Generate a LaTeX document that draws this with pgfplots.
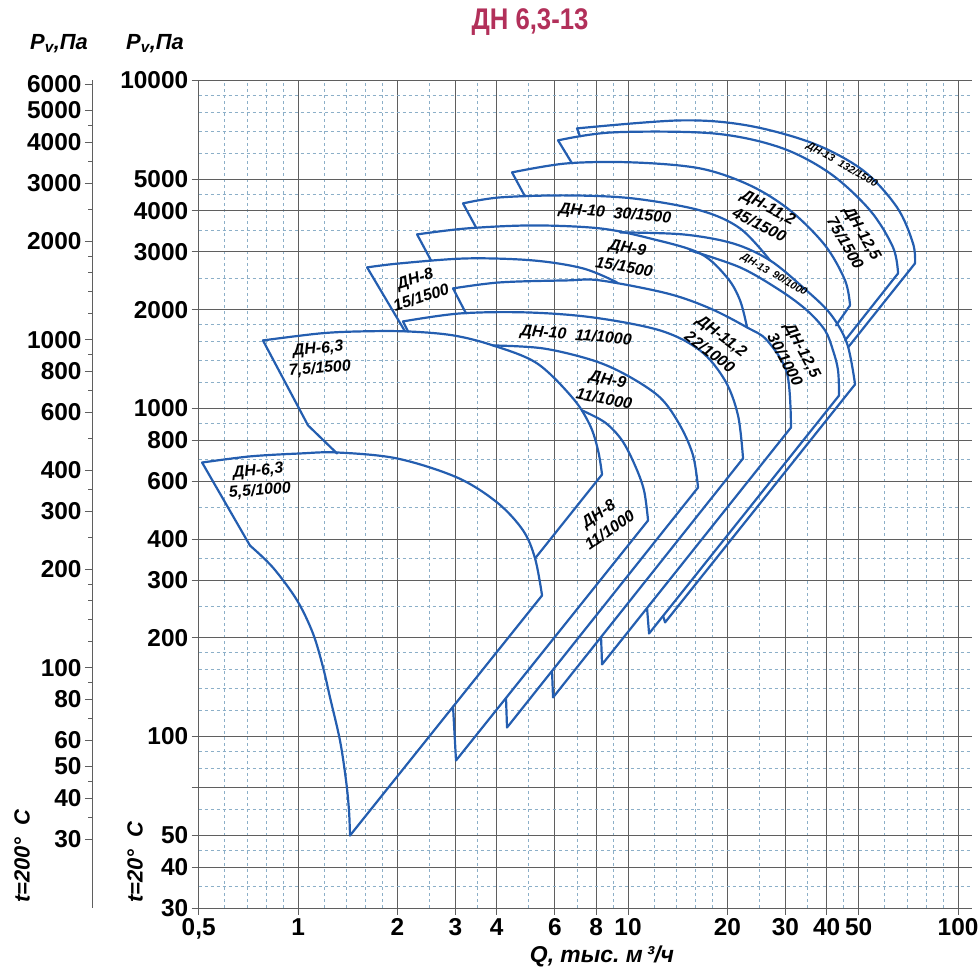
\documentclass[border=0pt]{standalone}
\usepackage{fontspec}
\setmainfont{Liberation Sans}
\usepackage{pgfplots}
\pgfplotsset{compat=1.18}
\definecolor{curvec}{RGB}{36,94,176}
\definecolor{majgrid}{RGB}{95,95,95}
\definecolor{mingrid}{RGB}{140,175,200}
\definecolor{titlec}{RGB}{178,48,90}
\newcommand{\lbl}{\fontsize{16}{20}\selectfont\bfseries\itshape}
\newcommand{\slbl}{\fontsize{10.5}{11}\selectfont\bfseries\itshape}
\newcommand{\axl}{\fontsize{22}{24}\selectfont\bfseries\itshape}
\newcommand{\tb}[1]{\textbf{#1}}
\pgfplotsset{
  fan/.style={draw=curvec, line width=2.2bp, line join=round, line cap=round, mark=none},
  fans/.style={fan, smooth, tension=0.55},
}
\begin{document}
\begin{tikzpicture}
\path[use as bounding box] (-198.7bp,-66bp) rectangle (781.3bp,908bp);
\begin{axis}[
  at={(0bp,0bp)}, anchor=south west,
  scale only axis, width=773bp, height=827.6bp,
  xmode=log, ymode=log, xmin=0.5, xmax=110, ymin=30, ymax=10000,
  axis line style={draw=none},
  tick pos=left, tick align=outside,
  major tick length=7bp, minor tick length=0bp,
  major tick style={draw=majgrid, line width=0.9bp},
  xtick={0.5,1,2,3,4,6,8,10,20,30,40,50,100},
  xticklabels={{\tb{0,5}},\tb{1},\tb{2},\tb{3},\tb{4},\tb{6},\tb{8},\tb{10},\tb{20},\tb{30},\tb{40},\tb{50},\tb{100}},
  ytick={30,40,50,70,100,200,300,400,600,800,1000,2000,3000,4000,5000,10000},
  yticklabels={\tb{30},\tb{40},\tb{50},{},\tb{100},\tb{200},\tb{300},\tb{400},\tb{600},\tb{800},\tb{1000},\tb{2000},\tb{3000},\tb{4000},\tb{5000},\tb{10000}},
  minor xtick={0.6,0.7,0.8,0.9,1.2,1.4,1.6,1.8,2.5,3.5,5,7,9,12,14,16,18,25,35,45,60,70,80,90},
  minor ytick={35,45,60,80,90,120,140,160,180,250,350,500,700,900,1200,1400,1600,1800,2500,3500,4500,6000,7000,8000,9000},
  grid=both,
  major grid style={draw=majgrid, line width=0.9bp},
  minor grid style={draw=mingrid, line width=0.7bp, dash pattern=on 3bp off 3bp},
  tick label style={font=\fontsize{24.5}{24.5}\selectfont\bfseries},
]
% DN-6,3 5,5/1000
\addplot[fans] coordinates {(0.512,684) (0.715,714) (1.014,729) (1.313,734) (1.995,704) (3.032,616) (4.009,517) (4.805,425) (5.227,349) (5.489,269)};
\addplot[fan] coordinates {(5.489,269) (1.437,49.9)};
\addplot[fans] coordinates {(1.437,49.9) (1.427,59.5) (1.398,73.4) (1.340,97.2) (1.250,131.5) (1.191,162.3) (1.110,206) (0.993,260) (0.840,327) (0.715,382)};
\addplot[fan] coordinates {(0.715,382) (0.512,684)};
% DN-6,3 7,5/1500
\addplot[fan] coordinates {(1.313,729) (1.072,888) (0.783,1612)};
\addplot[fans] coordinates {(0.783,1612) (1.166,1693) (1.541,1717) (2.140,1717) (2.949,1670) (3.898,1556) (5.300,1372) (6.813,1073) (7.671,888) (8.113,745) (8.342,629)};
\addplot[fan] coordinates {(8.342,629) (5.227,349)};
% lower boundary steps
\addplot[fan] coordinates {(2.949,123.5) (3.011,84.5) (11.50,455.5)};
\addplot[fan] coordinates {(4.268,131.1) (4.298,106.5) (16.30,574)};
\addplot[fan] coordinates {(5.885,157.8) (5.926,131.5) (22.31,704)};
\addplot[fan] coordinates {(8.284,200.4) (8.342,165.8) (31.18,875)};
\addplot[fan] coordinates {(11.42,245.6) (11.58,206) (43.60,1095)};
\addplot[fan] coordinates {(12.77,233.1) (12.95,222.7) (48.75,1184)};
% DN-8 11/1000
\addplot[fans] coordinates {(7.255,986) (8.517,906) (9.590,799) (10.50,670) (11.18,562) (11.50,455.5)};
% DN-9 11/1000
\addplot[fans] coordinates {(3.898,1556) (5.527,1524) (7.832,1401) (9.931,1261) (12.50,1080) (14.37,888) (15.74,719) (16.30,574)};
% DN-10 11/1000
\addplot[fan] coordinates {(2.154,1717) (2.080,1842)};
\addplot[fans] coordinates {(2.080,1842) (3.097,1948) (4.943,1962) (7.832,1894) (12.50,1729) (16.53,1502) (19.67,1217) (21.54,952) (22.31,704)};
% DN-11,2 22/1000
\addplot[fan] coordinates {(3.229,1948) (2.949,2322)};
\addplot[fans] coordinates {(2.949,2322) (4.094,2422) (6.534,2456) (8.227,2456) (13.13,2242) (17.72,2018) (22.94,1766) (26.38,1612) (30.33,1279) (31.18,875)};
% DN-8 15/1500
\addplot[fan] coordinates {(2.110,1717) (1.619,2691)};
\addplot[fans] coordinates {(1.619,2691) (2.038,2768) (3.252,2866) (5.153,2826) (7.305,2672) (9.262,2422)};
% DN-9 15/1500
\addplot[fan] coordinates {(2.529,2826) (2.295,3392)};
\addplot[fans] coordinates {(2.295,3392) (3.252,3538) (5.153,3613) (8.227,3538) (11.66,3298) (16.53,2969) (19.95,2508) (21.85,2135) (22.94,1766)};
% DN-12,5 30/1000
\addplot[fans] coordinates {(15.41,3032) (21.85,2691) (28.88,2290) (34.86,1990) (39.54,1729) (41.80,1502) (43.29,1306) (43.60,1095)};
% DN-10 30/1500
\addplot[fan] coordinates {(3.463,3562) (3.162,4217)};
\addplot[fans] coordinates {(3.162,4217) (4.094,4398) (6.534,4460) (10.35,4367) (16.53,4015) (21.85,3538) (26.94,2826)};
% DN-13 90/1000
\addplot[fans] coordinates {(9.459,3440) (14.68,3392) (20.81,3184) (26.94,2826) (33.91,2338) (40.93,1948) (46.09,1578) (48.75,1184)};
% DN-11,2 45/1500
\addplot[fan] coordinates {(4.873,4429) (4.451,5242)};
\addplot[fans] coordinates {(4.451,5242) (6.534,5585) (10.35,5623) (16.53,5391) (23.42,4786) (30.97,4015) (39.54,3141) (45.46,2456) (47.07,2061)};
\addplot[fan] coordinates {(47.07,2061) (42.69,1791)};
% DN-12,5 75/1500
\addplot[fan] coordinates {(6.766,5585) (6.137,6564)};
\addplot[fans] coordinates {(6.137,6564) (9.006,6943) (18.09,6894) (28.88,6247) (40.93,5206) (54.12,4015) (63.54,3097) (65.80,2580)};
\addplot[fan] coordinates {(65.80,2580) (45.46,1612)};
% DN-13 132/1500
\addplot[fan] coordinates {(7.154,6750) (7.005,7139)};
\addplot[fans] coordinates {(7.005,7139) (14.37,7551) (22.94,7292) (36.36,6427) (51.54,5316) (65.35,4100) (73.05,3184) (74.08,2768)};
\addplot[fan] coordinates {(74.08,2768) (46.42,1535)};
\end{axis}
% left scale, t = 200 C
\begin{axis}[
  at={(-106.7bp,0bp)}, anchor=south west,
  scale only axis, width=20bp, height=827.6bp,
  ymode=log, ymin=18.52, ymax=6172.8, xmin=0, xmax=1,
  axis x line=none, axis y line*=left,
  axis line style={draw=majgrid, line width=0.9bp},
  tick align=outside, major tick length=7bp, minor tick length=3.5bp,
  every tick/.style={draw=majgrid, line width=0.9bp},
  ytick={30,40,50,60,80,100,200,300,400,600,800,1000,2000,3000,4000,5000,6000},
  yticklabels={\tb{30},\tb{40},\tb{50},\tb{60},\tb{80},\tb{100},\tb{200},\tb{300},\tb{400},\tb{600},\tb{800},\tb{1000},\tb{2000},\tb{3000},\tb{4000},\tb{5000},\tb{6000}},
  minor ytick={35,45,70,90,120,140,160,180,250,350,500,700,900,1200,1400,1600,1800,2500,3500,4500},
  tick label style={font=\fontsize{24.5}{24.5}\selectfont\bfseries},
]
\end{axis}
\begin{scope}[shift={(-198.7bp,908bp)}, x=1bp, y=-1bp]
\node[text=titlec] at (530,22) {\scalebox{0.86}[1]{\fontsize{30}{30}\selectfont\bfseries ДН 6,3-13}};
\node at (59,44) {\axl P\textsubscript{v},Па};
\node at (155,44) {\axl P\textsubscript{v},Па};
\node[rotate=90] at (22,856) {\axl t=200°\ \ C};
\node[rotate=90] at (135,862) {\axl t=20°\ \ C};
\node at (602,956) {\fontsize{23}{24}\selectfont\bfseries\itshape Q, тыс.\ м\,³/ч};
% curve labels
\begin{scope}[every node/.style={font=\lbl, align=center, inner sep=0pt}]
\node[rotate=5] at (259,481) {ДН-6,3\\5,5/1000};
\node[rotate=5] at (319,359) {ДН-6,3\\7,5/1500};
\node[rotate=18] at (418,288) {ДН-8\\15/1500};
\node[rotate=-5] at (576,336) {ДН-10\ \ 11/1000};
\node[rotate=-11] at (606,389) {ДН-9\\11/1000};
\node[rotate=35] at (604,522) {ДН-8\\11/1000};
\node[rotate=-5] at (615,214) {ДН-10\ \ 30/1500};
\node[rotate=-10] at (626,257) {ДН-9\\15/1500};
\node[rotate=-27] at (764,216) {ДН-11,2\\45/1500};
\node[rotate=-60] at (854,238) {ДН-12,5\\75/1500};
\node[rotate=-37] at (716,344) {ДН-11,2\\22/1000};
\node[rotate=-62] at (794,355) {ДН-12,5\\30/1000};
\node[rotate=-30, font=\slbl] at (842,165) {ДН-13\ \ 132/1500};
\node[rotate=-30, font=\slbl] at (774,275) {ДН-13\ \ 90/1000};
\end{scope}
\end{scope}
\end{tikzpicture}
\end{document}
